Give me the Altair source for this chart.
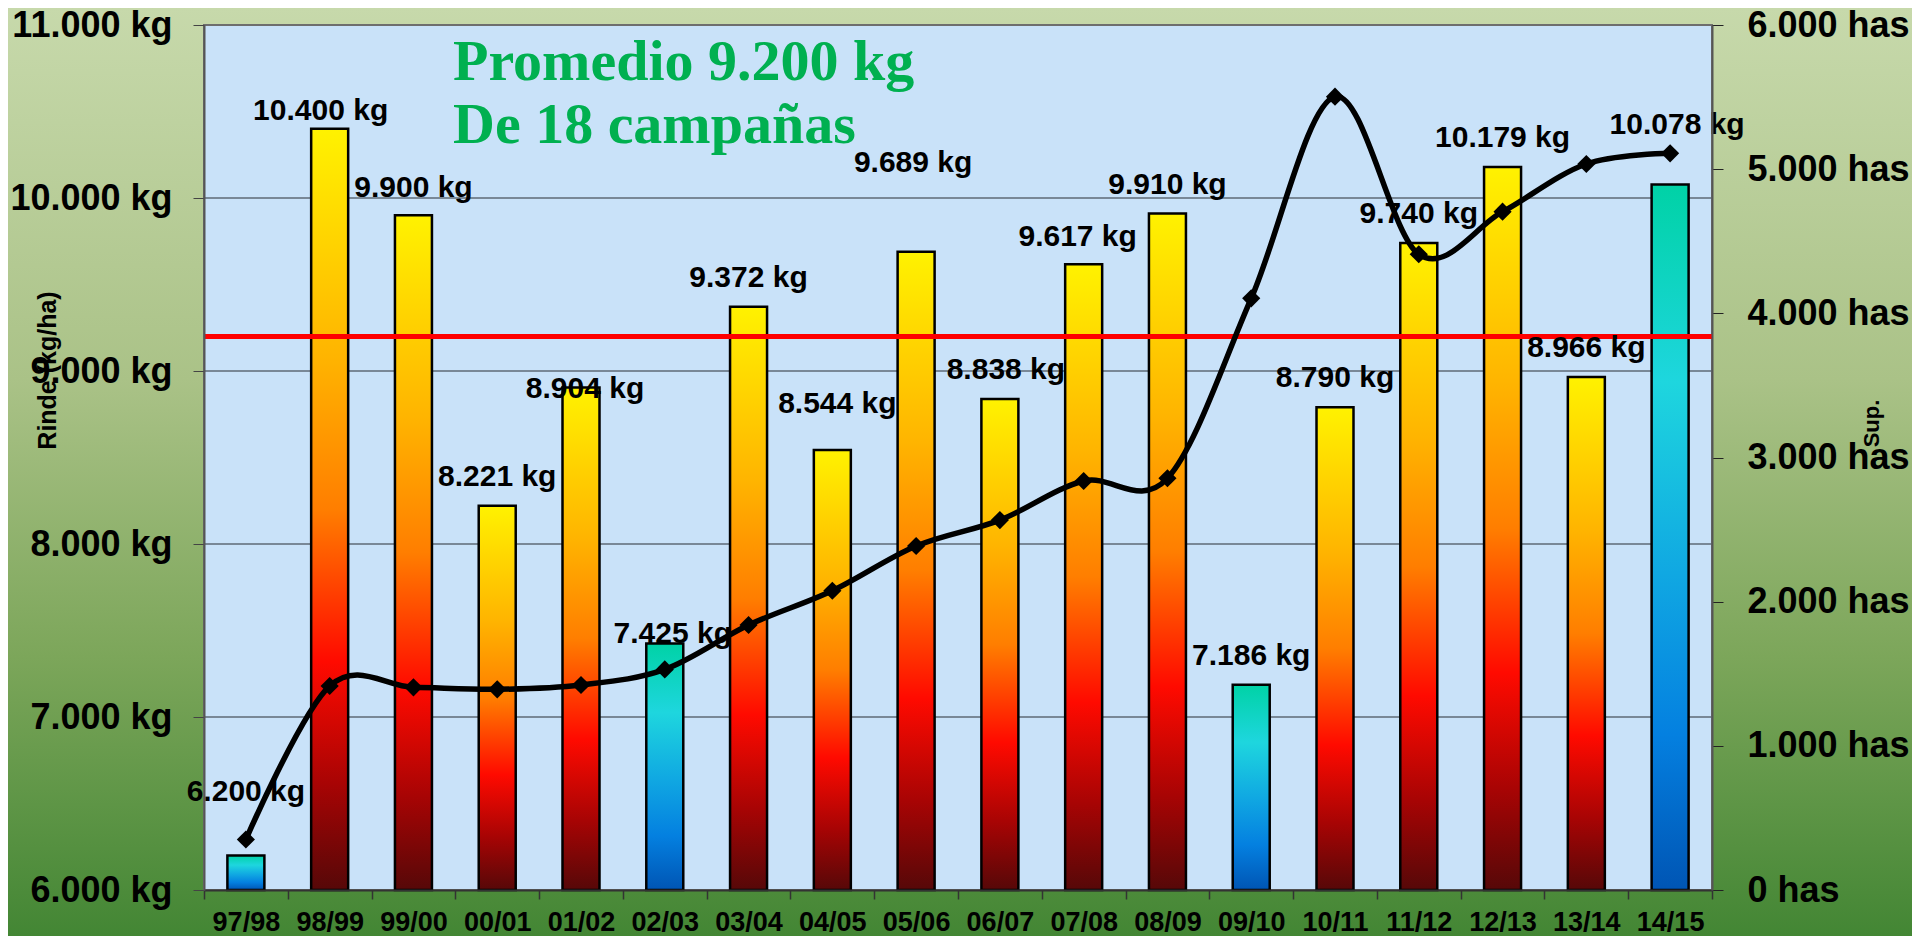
import altair as alt
import pandas as pd

# ---------------- data ----------------
campanas = ["97/98", "98/99", "99/00", "00/01", "01/02", "02/03", "03/04", "04/05", "05/06",
            "06/07", "07/08", "08/09", "09/10", "10/11", "11/12", "12/13", "13/14", "14/15"]
rinde_kg = [6200, 10400, 9900, 8221, 8904, 7425, 9372, 8544, 9689,
            8838, 9617, 9910, 7186, 8790, 9740, 10179, 8966, 10078]
superficie_has = [350, 1415, 1406, 1392, 1422, 1530, 1838, 2076, 2386,
                  2566, 2837, 2856, 4104, 5503, 4410, 4705, 5036, 5110]
tipo_barra = ["azul", "calido", "calido", "calido", "calido", "azul", "calido", "calido", "calido",
              "calido", "calido", "calido", "azul", "calido", "calido", "calido", "calido", "azul"]
promedio_kg = [9200]
guias_kg = [7000, 8000, 9000, 10000]
ticks_kg = [6000, 7000, 8000, 9000, 10000, 11000]
ticks_has = [0, 1000, 2000, 3000, 4000, 5000, 6000]
anotacion = "Promedio 9.200 kg\nDe 18 campañas"


def miles(v):
    return f"{v:,}".replace(",", ".")


df = pd.DataFrame({"campana": campanas, "rinde": rinde_kg, "sup": superficie_has, "tipo": tipo_barra})
df["etiqueta"] = [miles(v) + " kg" for v in rinde_kg]
df_prom = pd.DataFrame({"rinde": promedio_kg})
df_guias = pd.DataFrame({"rinde": guias_kg})
df_uno = pd.DataFrame({"t": [anotacion]})

# ---------------- layout / style ----------------
W, H = 1508, 865
PAD = {"left": 196, "top": 17, "right": 200, "bottom": 46}

# label nudges (pixels) relative to the top of each bar
ajuste = {
    "97/98": (0, -54), "98/99": (-9, -9), "01/02": (4, 10), "02/03": (8, 0),
    "04/05": (5, -37), "05/06": (-3, -80), "06/07": (6, -20), "07/08": (-6, -18),
    "14/15": (7, -51), "99/00": (0, -18),
}
dy_defecto = -20


def grad(stops):
    return alt.LinearGradient(gradient="linear", x1=0, x2=0, y1=0, y2=1,
                              stops=[alt.GradientStop(offset=o, color=c) for o, c in stops])


grad_calido = grad([(0, "#FFF200"), (0.3, "#FFB400"), (0.5, "#FF7E00"), (0.7, "#FF0A00"),
                    (0.86, "#A80404"), (1, "#560808")])
grad_azul = grad([(0, "#00D2A6"), (0.28, "#1ED6DE"), (0.55, "#10A8E2"), (0.78, "#0480E0"),
                  (1, "#0055B4")])
grad_fondo = grad([(0, "#C7D9AB"), (0.4, "#AAC287"), (0.7, "#7CA65A"), (1, "#438634")])

FONT = "Liberation Sans"

eje_x = alt.Axis(title=None, labelAngle=0, labelFontSize=27, labelFontWeight="bold",
                 labelColor="black", labelFont=FONT, tickBand="extent", tickSize=9,
                 tickColor="#333333", domainColor="#333333", domainWidth=2, tickWidth=1.5,
                 labelPadding=10, grid=False, zindex=1)
x_enc = alt.X("campana:N", sort=campanas, axis=eje_x,
              scale=alt.Scale(paddingInner=0, paddingOuter=0))

escala_kg = alt.Scale(domain=[6000, 11000], zero=False, nice=False)
eje_kg = alt.Axis(values=ticks_kg, orient="left",
                  labelExpr="replace(format(datum.value, ','), ',', '.') + ' kg'",
                  labelFontSize=36, labelFontWeight="bold", labelColor="black", labelFont=FONT,
                  tickSize=11, labelPadding=21, tickColor="#444444", domainColor="#555555",
                  domainWidth=2, grid=False, zindex=1,
                  title="Rinde (kg/ha)", titleFontSize=25, titleFontWeight="bold",
                  titleFont=FONT, titleColor="black", titleAngle=270, titleX=-157, titleY=345,
                  titleAlign="center", titleBaseline="middle")


def y_kg(campo):
    return alt.Y(f"{campo}:Q", scale=escala_kg, axis=eje_kg)


escala_has = alt.Scale(domain=[0, 6000], nice=False)
eje_has = alt.Axis(values=ticks_has, orient="right",
                   labelExpr="replace(format(datum.value, ','), ',', '.') + ' has'",
                   labelFontSize=36, labelFontWeight="bold", labelColor="black", labelFont=FONT,
                   tickSize=11, labelPadding=24, tickColor="#222222", domainColor="#555555",
                   domainWidth=2, grid=False, zindex=1,
                   title="Sup.", titleFontSize=22, titleFontWeight="bold", titleFont=FONT,
                   titleColor="black", titleAngle=270, titleX=159, titleY=398,
                   titleAlign="center", titleBaseline="middle")
y_has = alt.Y("sup:Q", scale=escala_has, axis=eje_has)

# ---------------- layers ----------------
fondo = alt.Chart(df_uno).mark_rect(fill=grad_fondo).encode(
    x=alt.value(-PAD["left"]), x2=alt.value(W + PAD["right"]),
    y=alt.value(-PAD["top"]), y2=alt.value(H + PAD["bottom"]))

area = alt.Chart(df_uno).mark_rect(fill="#C9E2F9", stroke="#6E6E6E", strokeWidth=2).encode(
    x=alt.value(0), x2=alt.value(W), y=alt.value(0), y2=alt.value(H))

guias = alt.Chart(df_guias).mark_rule(color="#5E6A76", strokeWidth=1.5).encode(y=y_kg("rinde"))

barras_calidas = alt.Chart(df).transform_filter(alt.datum.tipo == "calido").mark_bar(
    fill=grad_calido, stroke="black", strokeWidth=2.5, size=37).encode(
    x=x_enc, y=y_kg("rinde"), y2=alt.datum(6000))

barras_azules = alt.Chart(df).transform_filter(alt.datum.tipo == "azul").mark_bar(
    fill=grad_azul, stroke="black", strokeWidth=2.5, size=37).encode(
    x=x_enc, y=y_kg("rinde"), y2=alt.datum(6000))

promedio = alt.Chart(df_prom).mark_rule(color="#FF0000", strokeWidth=5).encode(y=y_kg("rinde"))

texto_kw = dict(fontSize=30, fontWeight="bold", font=FONT, color="black",
                baseline="alphabetic", align="center")
etiquetas = [
    alt.Chart(df).transform_filter(
        ~alt.FieldOneOfPredicate(field="campana", oneOf=list(ajuste.keys()))
    ).mark_text(dy=dy_defecto, **texto_kw).encode(x=x_enc, y=y_kg("rinde"), text="etiqueta:N")
]
for camp, (ddx, ddy) in ajuste.items():
    etiquetas.append(
        alt.Chart(df).transform_filter(alt.datum.campana == camp)
        .mark_text(dx=ddx, dy=ddy, **texto_kw)
        .encode(x=x_enc, y=y_kg("rinde"), text="etiqueta:N"))

nota = alt.Chart(df_uno).mark_text(
    align="left", baseline="alphabetic", font="Liberation Serif", fontWeight="bold",
    fontSize=58, color="#00B050", lineBreak="\n", lineHeight=63).encode(
    x=alt.value(249), y=alt.value(55), text="t:N")

capa_kg = alt.layer(fondo, area, guias, barras_calidas, barras_azules, promedio, *etiquetas, nota)

linea = alt.Chart(df).mark_line(interpolate="cardinal", color="black", strokeWidth=5.5).encode(
    x=x_enc, y=y_has)
puntos = alt.Chart(df).mark_point(shape="diamond", filled=True, size=330, color="black",
                                  opacity=1).encode(x=x_enc, y=y_has)
capa_has = alt.layer(linea, puntos)

chart = alt.layer(capa_kg, capa_has).resolve_scale(y="independent").properties(
    width=W, height=H, padding=PAD, autosize=alt.AutoSizeParams(type="none")
).configure(font=FONT).configure_view(stroke=None)

chart.save("out.html", embed_options={"renderer": "svg", "actions": False})
